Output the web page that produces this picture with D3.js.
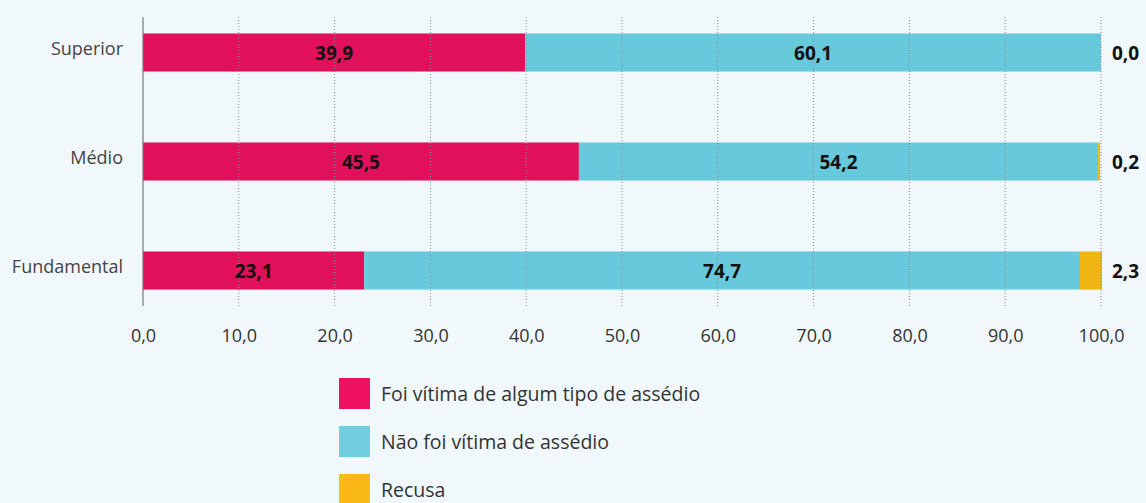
<!DOCTYPE html>
<html>
<head>
<meta charset="utf-8">
<script src="https://cdn.jsdelivr.net/npm/d3@7"></script>
<style>
  html, body { margin: 0; padding: 0; background: #f1f8fb; }
  svg { display: block; font-family: "Open Sans", sans-serif; }
</style>
</head>
<body>
<div id="chart_area"></div>
<script>
// data
const categories = ['Superior', 'Médio', 'Fundamental'];
const vitima = [39.9, 45.5, 23.1];
const naoVitima = [60.1, 54.2, 74.7];
const recusa = [0.0, 0.2, 2.3];
const seriesNames = ['Foi vítima de algum tipo de assédio', 'Não foi vítima de assédio', 'Recusa'];
const xTicks = [0, 10, 20, 30, 40, 50, 60, 70, 80, 90, 100];

const colors = ['#e0115a', '#69c9dc', '#eeb513'];
const legendColors = ['#ef1260', '#72cfe0', '#fbb917'];
const width = 1146;
const height = 503;
const plotTop = 17;
const plotBottom = 306;

const fmt = (v) => v.toFixed(1).replace('.', ',');

const svg = d3.select('#chart_area')
  .append('svg')
  .attr('width', width)
  .attr('height', height);

const x = d3.scaleLinear().domain([0, 100]).range([143, 1101]);
const y = d3.scaleBand().domain(categories).range([plotTop, plotBottom])
  .paddingInner(0.651).paddingOuter(0.151);

const rows = categories.map((c, i) => ({ cat: c, values: [vitima[i], naoVitima[i], recusa[i]] }));

// bars
const barG = svg.append('g');
const labelG = svg.append('g');
rows.forEach((row) => {
  let acc = 0;
  row.values.forEach((v, j) => {
    barG.append('rect')
      .attr('x', x(acc))
      .attr('y', y(row.cat))
      .attr('width', x(acc + v) - x(acc))
      .attr('height', y.bandwidth())
      .attr('fill', colors[j]);
    labelG.append('text')
      .attr('x', j < 2 ? x(acc + v / 2) : x(100) + 11)
      .attr('y', y(row.cat) + y.bandwidth() / 2 + 1)
      .attr('dy', '0.36em')
      .attr('text-anchor', j < 2 ? 'middle' : 'start')
      .attr('font-weight', 'bold')
      .attr('font-size', 19)
      .attr('fill', '#111')
      .text(fmt(v));
    acc += v;
  });
});

// gridlines (over bars)
svg.append('g')
  .selectAll('line')
  .data(xTicks.filter((t) => t > 0))
  .join('line')
  .attr('x1', (d) => x(d))
  .attr('x2', (d) => x(d))
  .attr('y1', plotTop)
  .attr('y2', plotBottom)
  .attr('stroke', '#8a8a8a')
  .attr('stroke-width', 1)
  .attr('stroke-dasharray', '1,2');

svg.append('line')
  .attr('x1', x(0))
  .attr('x2', x(0))
  .attr('y1', plotTop)
  .attr('y2', plotBottom)
  .attr('stroke', '#777')
  .attr('stroke-width', 1.2);

svg.node().appendChild(labelG.node());

// x tick labels
const xAxis = d3.axisBottom(x).tickValues(xTicks).tickFormat(fmt).tickSize(0).tickPadding(0);
const xg = svg.append('g')
  .attr('transform', `translate(0,${plotBottom + 23})`)
  .call(xAxis);
xg.select('.domain').remove();
xg.selectAll('text')
  .attr('font-size', 18)
  .attr('font-family', '"Open Sans", sans-serif')
  .attr('fill', '#333');

// category labels
const yAxis = d3.axisLeft(y).tickSize(0).tickPadding(20);
const yg = svg.append('g')
  .attr('transform', `translate(${x(0)},-3)`)
  .call(yAxis);
yg.select('.domain').remove();
yg.selectAll('text')
  .attr('font-size', 18)
  .attr('font-family', '"Open Sans", sans-serif')
  .attr('fill', '#444');

// legend
const legend = svg.append('g').attr('transform', 'translate(339,378)');
seriesNames.forEach((name, i) => {
  const g = legend.append('g').attr('transform', `translate(0,${i * 48})`);
  g.append('rect')
    .attr('width', 31)
    .attr('height', 31)
    .attr('fill', legendColors[i]);
  g.append('text')
    .attr('x', 42)
    .attr('y', 16)
    .attr('dy', '0.36em')
    .attr('font-size', 19.5)
    .attr('fill', '#333')
    .text(name);
});
</script>
</body>
</html>
